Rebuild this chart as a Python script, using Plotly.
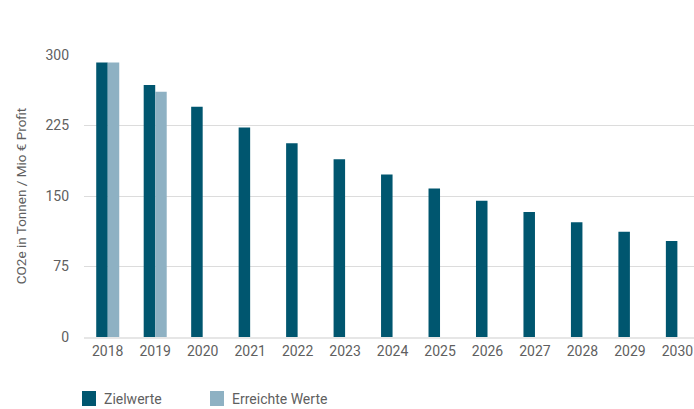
import plotly.graph_objects as go

years = ["2018", "2019", "2020", "2021", "2022", "2023", "2024",
         "2025", "2026", "2027", "2028", "2029", "2030"]
zielwerte = [292, 268, 245, 223, 206, 189, 173, 158, 145, 133, 122, 112, 102]
erreicht_years = ["2018", "2019"]
erreicht = [292, 261]

DARK = "#00566f"
LIGHT = "#8eb1c3"
FONT = "Roboto"
GREY = "#5f5f5f"

fig = go.Figure()
fig.add_trace(go.Bar(x=years, y=zielwerte, name="Zielwerte",
                     marker=dict(color=DARK, line=dict(width=0)), offsetgroup="a"))
fig.add_trace(go.Bar(x=erreicht_years, y=erreicht, name="Erreichte Werte",
                     marker=dict(color=LIGHT, line=dict(width=0)), offsetgroup="b"))

fig.update_layout(
    width=694, height=409,
    margin=dict(l=84, r=0, t=55, b=72),
    paper_bgcolor="white", plot_bgcolor="white",
    barmode="group", bargap=0.515, bargroupgap=0,
    showlegend=False,
    font=dict(family=FONT, color=GREY, size=14),
    xaxis=dict(type="category", categoryorder="array", categoryarray=years,
               range=[-0.5, 12.35], showgrid=False, zeroline=False,
               showline=True, linecolor="#e6e6e6", linewidth=2,
               ticks="", tickfont=dict(size=14, color=GREY)),
    yaxis=dict(range=[0, 300], tickvals=[0, 75, 150, 225, 300],
               showgrid=True, gridcolor="#dcdcdc", gridwidth=1,
               zeroline=False, showline=False, ticks="",
               ticklabelstandoff=14,
               tickfont=dict(size=14, color=GREY),
               title=dict(text="CO2e in Tonnen / Mio € Profit",
                          font=dict(size=13.5, color=GREY), standoff=15)),
)

# custom legend
legend_items = [("Zielwerte", DARK, 82), ("Erreichte Werte", LIGHT, 210)]
for label, color, x0 in legend_items:
    fig.add_shape(type="rect", xref="paper", yref="paper",
                  x0=(x0 - 84) / 610, x1=(x0 + 14 - 84) / 610,
                  y0=(337 - 406) / 282, y1=(337 - 391) / 282,
                  fillcolor=color, line=dict(width=0))
    fig.add_annotation(text=label, xref="paper", yref="paper",
                       x=(x0 + 20 - 84) / 610, y=(337 - 398.5) / 282,
                       xanchor="left", yanchor="middle", showarrow=False,
                       font=dict(size=14, color=GREY, family=FONT))

fig.write_html("out.html", config={"displayModeBar": False},
               post_script="document.body.style.margin='0';document.body.style.overflow='hidden';")
